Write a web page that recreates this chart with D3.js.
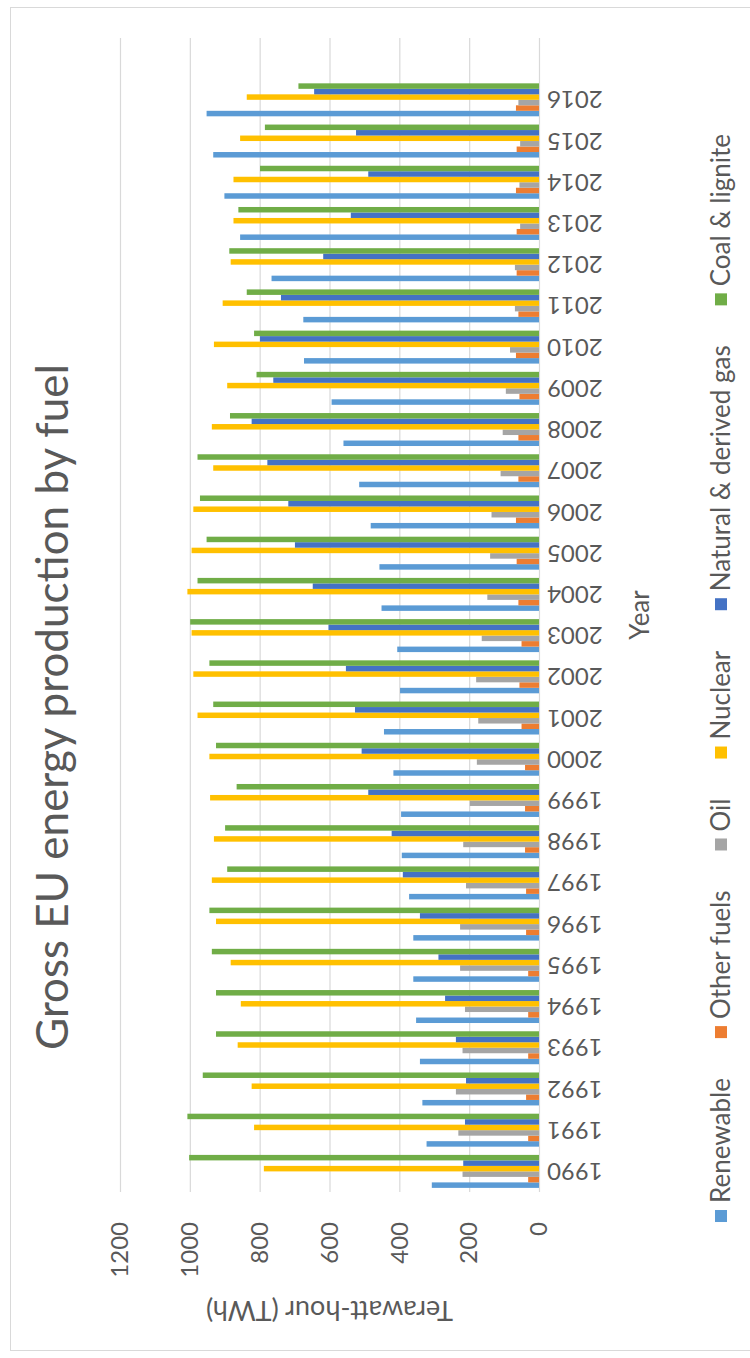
<!DOCTYPE html>
<html>
<head>
<meta charset="utf-8">
<script src="https://cdn.jsdelivr.net/npm/d3@7"></script>
<style>
  body { margin: 0; background: #fff; }
  svg { display: block; }
  text { font-family: Lato, "Open Sans", "Liberation Sans", sans-serif; fill: #595959; }
</style>
</head>
<body>
<svg id="chart" width="750" height="1358"></svg>
<script>
// Gross EU electricity production by fuel, TWh
const years = ["1990","1991","1992","1993","1994","1995","1996","1997","1998","1999",
               "2000","2001","2002","2003","2004","2005","2006","2007","2008","2009",
               "2010","2011","2012","2013","2014","2015","2016"];
const renewable = [307,322,334,341,352,360,360,372,393,395,417,444,398,406,451,457,482,515,560,594,673,675,766,856,901,933,952];
const otherFuels = [31,31,37,31,31,31,37,37,40,40,40,50,56,50,59,64,66,59,59,56,66,59,64,64,66,64,66];
const oil = [219,231,238,219,212,226,226,209,217,198,178,174,180,164,148,140,136,110,104,95,83,69,69,54,56,54,59];
const nuclear = [788,816,823,863,854,883,925,937,931,942,944,978,990,995,1007,995,990,933,937,893,931,906,883,875,875,856,837];
const gas = [217,212,209,238,269,288,341,390,422,489,508,527,553,603,648,699,718,778,823,761,799,739,618,539,489,524,644];
const coal = [1002,1007,963,925,925,937,944,893,899,866,925,933,944,999,978,952,971,978,885,809,816,837,887,861,799,785,689];

const seriesNames = ["Renewable", "Other fuels", "Oil", "Nuclear", "Natural & derived gas", "Coal & lignite"];
const seriesValues = [renewable, otherFuels, oil, nuclear, gas, coal];
const seriesColors = ["#5B9BD5", "#ED7D31", "#A5A5A5", "#FFC000", "#4472C4", "#70AD47"];
const valueTicks = [0, 200, 400, 600, 800, 1000, 1200];

const chartTitle = "Gross EU energy production by fuel";
const valueAxisTitle = "Terawatt-hour (TWh)";
const categoryAxisTitle = "Year";

// The chart is laid out as a landscape column chart (L wide) and then turned
// a quarter-turn counter-clockwise onto the portrait page.
const L = 1358;
const svg = d3.select("#chart");

// chart area frame
svg.append("rect")
  .attr("x", 10.5).attr("y", 7.5)
  .attr("width", 750).attr("height", 1343)
  .attr("fill", "#fff").attr("stroke", "#d9d9d9").attr("stroke-width", 1);

const g = svg.append("g").attr("transform", `translate(0,${L}) rotate(-90)`);

const plotLeft = 166, plotRight = 1320, plotTop = 120, plotBottom = 539;
const slot = (plotRight - plotLeft) / (years.length + 1);

const x = d3.scaleBand()
  .domain(years)
  .range([plotLeft, plotLeft + slot * years.length])
  .paddingInner(0.2)
  .paddingOuter(0.1);
const xs = d3.scaleBand().domain(seriesNames).range([0, x.bandwidth()]);
const y = d3.scaleLinear().domain([0, 1200]).range([plotBottom, plotTop]);

// value axis with gridlines
const yAxisG = g.append("g")
  .attr("transform", `translate(${plotLeft},0)`)
  .call(d3.axisLeft(y)
    .tickValues(valueTicks)
    .tickFormat(d3.format("d"))
    .tickSize(-(plotRight - plotLeft))
    .tickPadding(30));
yAxisG.select(".domain").remove();
yAxisG.selectAll(".tick line").attr("stroke", "#d9d9d9").attr("stroke-width", 1.2);
yAxisG.selectAll(".tick text").attr("font-size", 24).attr("fill", "#595959");

// category axis labels (vertical)
const xAxisG = g.append("g")
  .attr("transform", `translate(0,${plotBottom})`)
  .call(d3.axisBottom(x).tickSize(0));
xAxisG.select(".domain").remove();
xAxisG.selectAll(".tick text")
  .attr("font-size", 24)
  .attr("fill", "#595959")
  .attr("transform", "rotate(-90)")
  .attr("text-anchor", "end")
  .attr("x", -8)
  .attr("y", 0)
  .attr("dy", "0.35em");

// bars
const rows = years.map((yr, i) => ({ year: yr, values: seriesNames.map((s, k) => ({ key: s, value: seriesValues[k][i], color: seriesColors[k] })) }));
g.append("g").selectAll("g")
  .data(rows)
  .join("g")
  .attr("transform", d => `translate(${x(d.year)},0)`)
  .selectAll("rect")
  .data(d => d.values)
  .join("rect")
  .attr("x", d => xs(d.key))
  .attr("width", xs.bandwidth())
  .attr("y", d => y(d.value))
  .attr("height", d => y(0) - y(d.value))
  .attr("fill", d => d.color);

// titles
g.append("text")
  .attr("x", 651).attr("y", 68)
  .attr("text-anchor", "middle")
  .attr("font-size", 44)
  .text(chartTitle);

g.append("text")
  .attr("transform", `translate(48,${(plotTop + plotBottom) / 2}) rotate(-90)`)
  .attr("text-anchor", "middle")
  .attr("dy", "0.35em")
  .attr("font-size", 27)
  .text(valueAxisTitle);

g.append("text")
  .attr("x", (plotLeft + plotRight) / 2).attr("y", 640)
  .attr("text-anchor", "middle")
  .attr("dy", "0.35em")
  .attr("font-size", 26)
  .text(categoryAxisTitle);

// legend
const legend = g.append("g").attr("transform", "translate(0,721)");
const items = legend.selectAll("g").data(seriesNames).join("g");
items.append("rect")
  .attr("width", 12).attr("height", 12).attr("y", -6)
  .attr("fill", (d, i) => seriesColors[i]);
items.append("text")
  .attr("x", 19).attr("dy", "0.35em")
  .attr("font-size", 26)
  .text(d => d);
const widths = [];
items.each(function () { widths.push(this.getBBox().width); });
const gap = 40;
const total = d3.sum(widths) + gap * (widths.length - 1);
let cx = 680 - total / 2;
items.attr("transform", (d, i) => { const t = `translate(${cx},0)`; cx += widths[i] + gap; return t; });
</script>
</body>
</html>
